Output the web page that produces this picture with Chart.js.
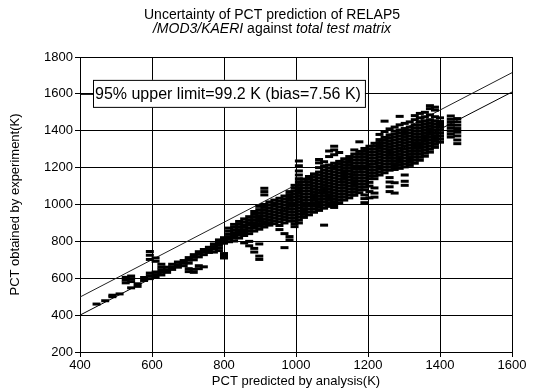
<!DOCTYPE html>
<html>
<head>
<meta charset="utf-8">
<script src="https://cdn.jsdelivr.net/npm/chart.js@4.4.1/dist/chart.umd.min.js"></script>
<style>
 html,body{margin:0;padding:0;background:#fff;}
 canvas{display:block;}
</style>
</head>
<body>
<canvas id="pctChart" width="537" height="392"></canvas>
<script>
// tick labels
const xTicks = [400, 600, 800, 1000, 1200, 1400, 1600];
const yTicks = [200, 400, 600, 800, 1000, 1200, 1400, 1600, 1800];

// PCT predicted by RELAP5 (K) -- one entry per column of markers
const pctPredicted = [
 446, 470, 490, 510, 527, 542, 560, 578, 594, 610, 626, 642, 656, 672, 688, 702, 716, 730, 744, 758,
 772, 786, 800, 814, 828, 842, 856, 870, 884, 898, 912, 926, 940, 954, 968, 982, 996, 1008, 1022, 1036,
 1050, 1064, 1078, 1092, 1106, 1120, 1134, 1148, 1162, 1176, 1190, 1204, 1218, 1232, 1246, 1260, 1274, 1288, 1302, 1316,
 1330, 1344, 1358, 1372, 1386, 1400, 1430, 1448
];

// PCT measured in the tests (K) at each predicted value above
const pctMeasured = [
 [460], [478], [500, 508], [515], [575, 590, 605], [548, 582, 598, 612], [556, 570], [588, 604],
 [598, 614, 628, 702, 725, 745], [606, 620, 634, 692, 710], [618, 632, 646, 660, 676], [632, 646, 660],
 [648, 662, 676], [660, 674, 688], [668, 682, 696], [636, 652, 682, 698, 712], [632, 648, 700, 714, 728],
 [652, 668, 716, 730, 744], [662, 728, 742, 756], [740, 754, 768], [742, 758, 772, 786], [750, 766, 780, 794, 808],
 [710, 718, 734, 790, 806, 820], [798, 812, 826, 840, 856, 872], [802, 818, 832, 846, 860, 876, 892],
 [818, 834, 848, 862, 876, 892, 908], [792, 832, 848, 862, 876, 890, 906, 922],
 [776, 800, 842, 858, 872, 888, 902, 918, 934], [742, 762, 856, 872, 886, 900, 914, 930, 946, 962],
 [702, 720, 786, 866, 882, 896, 910, 924, 940, 956, 972, 990],
 [878, 892, 906, 920, 936, 952, 968, 984, 1000, 1052, 1070, 1088],
 [888, 902, 918, 934, 950, 966, 982, 998, 1014], [896, 912, 928, 944, 960, 976, 992, 1008, 1024],
 [864, 886, 906, 922, 938, 954, 970, 986, 1002, 1018, 1034],
 [766, 842, 900, 918, 934, 950, 966, 982, 998, 1014, 1030, 1046],
 [808, 826, 910, 926, 942, 958, 974, 990, 1006, 1022, 1038, 1054, 1070],
 [880, 896, 912, 928, 944, 960, 976, 992, 1008, 1024, 1040, 1056, 1072, 1088, 1104],
 [900, 916, 932, 948, 964, 980, 996, 1012, 1028, 1044, 1060, 1076, 1092, 1108, 1124, 1140, 1160, 1182, 1210, 1236],
 [930, 946, 962, 978, 994, 1010, 1026, 1042, 1058, 1074, 1090, 1106, 1122, 1138],
 [944, 960, 976, 992, 1008, 1024, 1040, 1056, 1072, 1088, 1104, 1120, 1136, 1152],
 [958, 974, 990, 1006, 1022, 1038, 1054, 1070, 1086, 1102, 1118, 1134, 1150, 1166],
 [968, 984, 1000, 1016, 1032, 1048, 1064, 1080, 1096, 1112, 1128, 1144, 1160, 1176, 1200, 1226, 1244],
 [888, 980, 996, 1012, 1028, 1044, 1060, 1076, 1092, 1108, 1124, 1140, 1156, 1172, 1188, 1210, 1232],
 [990, 1006, 1022, 1038, 1054, 1070, 1086, 1102, 1118, 1134, 1150, 1166, 1182, 1198, 1214, 1260, 1290],
 [984, 1000, 1016, 1032, 1048, 1064, 1080, 1096, 1112, 1128, 1144, 1160, 1176, 1192, 1208, 1224, 1270, 1296, 1316],
 [1010, 1026, 1042, 1058, 1074, 1090, 1106, 1122, 1138, 1154, 1170, 1186, 1202, 1218, 1234, 1282],
 [1024, 1040, 1056, 1072, 1088, 1104, 1120, 1136, 1152, 1168, 1184, 1200, 1216, 1232, 1248],
 [1036, 1052, 1068, 1084, 1100, 1116, 1132, 1148, 1164, 1180, 1196, 1212, 1228, 1244, 1260],
 [1050, 1066, 1082, 1098, 1114, 1130, 1146, 1162, 1178, 1194, 1210, 1226, 1242, 1258, 1274, 1296],
 [1064, 1080, 1096, 1112, 1128, 1144, 1160, 1176, 1192, 1208, 1224, 1240, 1256, 1272, 1288, 1340],
 [1010, 1032, 1052, 1080, 1096, 1112, 1128, 1144, 1160, 1176, 1192, 1208, 1224, 1240, 1256, 1272, 1288, 1304],
 [1036, 1070, 1100, 1120, 1140, 1156, 1172, 1188, 1204, 1220, 1236, 1252, 1268, 1284, 1300, 1316],
 [1040, 1062, 1090, 1140, 1156, 1172, 1188, 1204, 1220, 1236, 1252, 1268, 1284, 1300, 1316, 1332],
 [1160, 1176, 1192, 1208, 1224, 1240, 1256, 1272, 1288, 1304, 1320, 1336, 1352, 1380],
 [1172, 1188, 1204, 1220, 1236, 1252, 1268, 1284, 1300, 1316, 1332, 1348, 1364, 1396, 1452],
 [1070, 1096, 1122, 1146, 1186, 1202, 1218, 1234, 1250, 1266, 1282, 1298, 1314, 1330, 1346, 1362, 1378, 1410],
 [1062, 1118, 1190, 1206, 1222, 1238, 1254, 1270, 1286, 1302, 1318, 1334, 1350, 1366, 1382, 1398, 1420],
 [1196, 1212, 1228, 1244, 1260, 1276, 1292, 1308, 1324, 1340, 1356, 1372, 1388, 1404, 1432, 1478],
 [1104, 1126, 1160, 1204, 1220, 1236, 1252, 1268, 1284, 1300, 1316, 1332, 1348, 1364, 1380, 1396, 1412, 1440],
 [1212, 1228, 1244, 1260, 1276, 1292, 1308, 1324, 1340, 1356, 1372, 1388, 1404, 1420, 1448],
 [1224, 1240, 1256, 1272, 1288, 1304, 1320, 1336, 1352, 1368, 1384, 1400, 1416, 1432, 1460, 1482],
 [1240, 1256, 1272, 1288, 1304, 1320, 1336, 1352, 1368, 1384, 1400, 1416, 1432, 1448, 1470, 1494],
 [1262, 1278, 1294, 1310, 1326, 1342, 1358, 1374, 1390, 1406, 1422, 1438, 1454, 1476, 1500],
 [1284, 1300, 1316, 1332, 1348, 1364, 1380, 1396, 1412, 1428, 1444, 1460, 1486, 1520, 1536],
 [1310, 1326, 1342, 1358, 1374, 1390, 1406, 1422, 1438, 1454, 1476, 1512, 1528],
 [1338, 1354, 1370, 1386, 1402, 1418, 1434, 1450, 1470],
 [1366, 1382, 1398, 1414, 1430, 1446, 1462, 1480],
 [1330, 1350, 1372, 1392, 1412, 1430, 1448, 1466]
];

// reference lines: measured = predicted, and the 95% upper limit
const lineX = [400, 1600];
const perfectLine = [400, 1610];
const upperLimitLine = [498, 1715];

const titleText = ['Uncertainty of PCT prediction of RELAP5', '/MOD3/KAERI against total test matrix'];
const boxText = '95% upper limit=99.2 K (bias=7.56 K)';
const boxValue = 1600;

const FONT = "'Liberation Sans', Arial, Helvetica, sans-serif";

const points = [];
pctPredicted.forEach((x, i) => {
  pctMeasured[i].forEach(y => points.push({x: x, y: y}));
});

// title with the italic parts of the second line
const titlePlugin = {
  id: 'pctTitle',
  afterDraw(chart) {
    const c = chart.ctx;
    const cx = 272;
    c.save();
    c.fillStyle = '#000';
    c.textBaseline = 'middle';
    c.font = '14px ' + FONT;
    c.textAlign = 'center';
    c.fillText(titleText[0], cx, 15);
    const parts = [['/MOD3/KAERI', true], [' against ', false], ['total test matrix', true]];
    let total = 0;
    parts.forEach(p => {
      c.font = (p[1] ? 'italic ' : '') + '14px ' + FONT;
      total += c.measureText(p[0]).width;
    });
    let x = cx - total / 2;
    c.textAlign = 'left';
    parts.forEach(p => {
      c.font = (p[1] ? 'italic ' : '') + '14px ' + FONT;
      c.fillText(p[0], x, 29);
      x += c.measureText(p[0]).width;
    });
    c.restore();
  }
};

// boxed note on the 1600 K grid line
const notePlugin = {
  id: 'pctNote',
  afterDraw(chart) {
    const c = chart.ctx;
    const a = chart.chartArea;
    const y = chart.scales.y.getPixelForValue(boxValue);
    c.save();
    c.font = '16px ' + FONT;
    const w = c.measureText(boxText).width + 6;
    const left = a.left + 13;
    c.fillStyle = '#fff';
    c.fillRect(left, y - 14, w, 28);
    c.strokeStyle = '#000';
    c.lineWidth = 1;
    c.strokeRect(left + 0.5, y - 13.5, w, 27);
    c.beginPath();
    c.moveTo(a.left, y + 0.5);
    c.lineTo(left, y + 0.5);
    c.stroke();
    c.fillStyle = '#000';
    c.textBaseline = 'middle';
    c.fillText(boxText, left + 2, y + 1);
    c.restore();
  }
};

const plainTick = v => String(v);

new Chart(document.getElementById('pctChart'), {
  type: 'scatter',
  data: {
    datasets: [
      {
        label: 'tests',
        data: points,
        pointStyle: 'line',
        pointRadius: 4,
        pointBorderWidth: 3,
        borderColor: '#000',
        backgroundColor: '#000'
      },
      {
        label: 'measured = predicted',
        type: 'line',
        data: lineX.map((x, i) => ({x: x, y: perfectLine[i]})),
        borderColor: '#000',
        borderWidth: 1,
        pointRadius: 0
      },
      {
        label: '95% upper limit',
        type: 'line',
        data: lineX.map((x, i) => ({x: x, y: upperLimitLine[i]})),
        borderColor: '#222',
        borderWidth: 1,
        pointRadius: 0
      }
    ]
  },
  options: {
    responsive: false,
    animation: false,
    layout: {padding: {top: 57, right: 25, left: 0, bottom: 0}},
    plugins: {legend: {display: false}, tooltip: {enabled: false}},
    scales: {
      x: {
        type: 'linear',
        min: xTicks[0],
        max: xTicks[xTicks.length - 1],
        afterBuildTicks: s => { s.ticks = xTicks.map(v => ({value: v})); },
        ticks: {color: '#000', padding: 1, font: {size: 13, family: FONT}, callback: plainTick},
        grid: {color: '#000', lineWidth: 1, tickLength: 5},
        border: {color: '#000', width: 1},
        title: {display: true, text: 'PCT predicted by analysis(K)', color: '#000',
          font: {size: 13, family: FONT}, padding: {top: 0, bottom: 3}},
        afterFit: s => { s.height = 40; }
      },
      y: {
        type: 'linear',
        min: yTicks[0],
        max: yTicks[yTicks.length - 1],
        afterBuildTicks: s => { s.ticks = yTicks.map(v => ({value: v})); },
        ticks: {color: '#000', padding: 2, font: {size: 13, family: FONT}, callback: plainTick},
        grid: {color: '#000', lineWidth: 1, tickLength: 5},
        border: {color: '#000', width: 1},
        title: {display: true, text: 'PCT obtained by experiment(K)', color: '#000',
          font: {size: 13, family: FONT}, padding: {top: 8, bottom: 0}},
        afterFit: s => { s.width = 80; }
      }
    }
  },
  plugins: [titlePlugin, notePlugin]
});
</script>
</body>
</html>
